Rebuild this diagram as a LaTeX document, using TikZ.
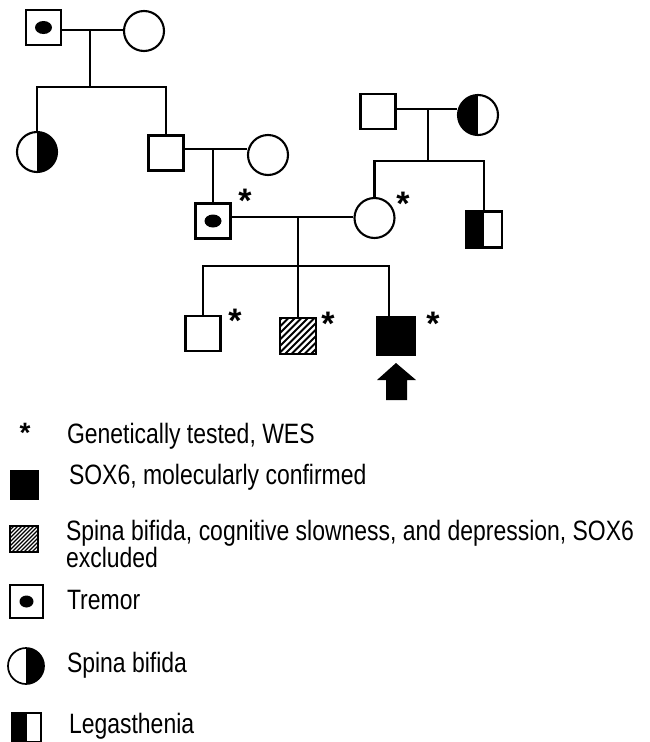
\documentclass[tikz,border=0pt]{standalone}
\usepackage{fontspec}
\setmainfont{Liberation Sans}
\newfontfamily\legendfont[FakeStretch=0.82]{Liberation Sans}
\begin{document}
\begin{tikzpicture}[x=1pt,y=-1pt,line width=2.1pt,
  male/.style={draw,rectangle,minimum size=35pt,inner sep=0pt,line width=2.1pt},
  female/.style={draw,circle,minimum size=40pt,inner sep=0pt,line width=2.1pt},
  tremor/.style={path picture={\fill (path picture bounding box.center) ellipse (8.5pt and 6.5pt);}},
  smalltremor/.style={path picture={\fill (path picture bounding box.center) ellipse (7pt and 6pt);}},
  rhalf/.style={path picture={\fill (path picture bounding box.north) rectangle (path picture bounding box.south east);}},
  lhalf/.style={path picture={\fill (path picture bounding box.north west) rectangle (path picture bounding box.south);}},
  hatch/.style={path picture={\foreach \k in {-60,-53.5,...,60}{\draw[line width=1.9pt] ([xshift=\k pt]path picture bounding box.south west) -- ++(60pt,60pt);}}},
  smallhatch/.style={path picture={\foreach \k in {-50,-46,...,50}{\draw[line width=1.2pt] ([xshift=\k pt]path picture bounding box.south west) -- ++(50pt,50pt);}}},
  ast/.style={font=\fontsize{34}{34}\selectfont\bfseries,inner sep=0pt},
  legtext/.style={font=\legendfont\fontsize{28}{33}\selectfont,anchor=base west,inner sep=0pt}
]
\useasboundingbox (0,0) rectangle (649,742);

% generation 1
\node[male,tremor] (GF) at (43.5,27.5) {};
\node[female] (GM) at (144,31) {};
\coordinate (m1) at (90,30);
\coordinate (s1) at (90,87);
\draw (GF.east |- m1) -- (GM.west |- m1);
\draw (m1) -- (s1);

% generation 2
\node[female,rhalf] (A) at (37,152) {};
\node[male] (F1) at (166,153) {};
\draw (A.north) -- (A.north |- s1) -- (F1.north |- s1) -- (F1.north);
\node[female] (M1) at (268,155) {};
\coordinate (m2) at (213,149);
\draw (F1.east |- m2) -- (M1.west |- m2);

% right family
\node[male] (RGF) at (378,111.5) {};
\node[female,lhalf] (RGM) at (478,115) {};
\coordinate (m4) at (428,109);
\coordinate (s4) at (428,161);
\draw (RGF.east |- m4) -- (RGM.west |- m4);
\draw (m4) -- (s4);

% generation 3
\node[male,tremor] (P) at (213,221) {};
\draw (m2) -- (P.north);
\node[female] (W) at (374.5,218) {};
\node[male,lhalf,minimum size=36pt] (L) at (484,229.5) {};
\draw (W.north) -- (W.north |- s4) -- (L.north |- s4) -- (L.north);
\coordinate (m3) at (298,217);
\draw (P.east |- m3) -- (W.west |- m3);
\node[ast] (aP) at (245,201) {*};
\node[ast] (aW) at (403,204) {*};

% generation 4
\coordinate (s3r) at (389,266);
\node[male] (C1) at (203,333.5) {};
\node[male,hatch,minimum size=36pt] (C2) at (298,336) {};
\node[male,fill=black,minimum size=37pt] (C3) at (396,336) {};
\draw (m3) -- (C2.north);
\draw (C1.north) -- (C1.north |- s3r) -- (s3r) -- (s3r |- C3.north);
\node[ast] (a1) at (235,321) {*};
\node[ast] (a2) at (328,324) {*};
\node[ast] (a3) at (433,324) {*};
\fill (396,363) -- (416,380) -- (407,380) -- (407,400) -- (386,400) -- (386,380) -- (377,380) -- cycle;

% legend
\node[inner sep=0pt,font=\fontsize{28}{28}\selectfont\bfseries] (la) at (25,433) {*};
\node[legtext] (t1) at (66,443) {Genetically tested, WES};
\node[draw,fill=black,minimum width=28pt,minimum height=29pt,inner sep=0pt,line width=1pt] (lsq) at (24,484.5) {};
\node[legtext] (t2) at (68,484) {SOX6, molecularly confirmed};
\node[draw,smallhatch,minimum width=28pt,minimum height=26pt,inner sep=0pt,line width=1.5pt] (lhat) at (24,539) {};
\node[legtext] (t3) at (65,540) {Spina bifida, cognitive slowness, and depression, SOX6};
\node[legtext] (t3b) at (65,567) {excluded};
\node[male,smalltremor,minimum size=33pt,line width=1.7pt] (ltr) at (26.5,601.5) {};
\node[legtext] (t4) at (66,609) {Tremor};
\node[female,rhalf,minimum size=36pt,line width=1.7pt] (lsb) at (26,666) {};
\node[legtext] (t5) at (66,672) {Spina bifida};
\node[draw,lhalf,minimum width=29pt,minimum height=29pt,inner sep=0pt,line width=1.7pt] (lleg) at (26.5,727.5) {};
\node[legtext] (t6) at (68,733) {Legasthenia};
\end{tikzpicture}
\end{document}
